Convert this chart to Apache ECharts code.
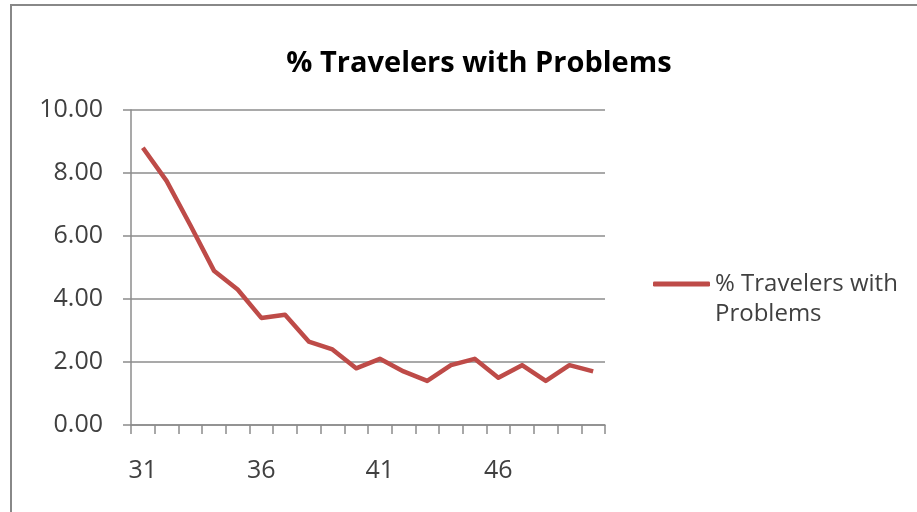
<!DOCTYPE html>
<html>
<head>
<meta charset="utf-8">
<style>
  html, body { margin: 0; padding: 0; background: #ffffff; }
  #chart { width: 917px; height: 512px; }
</style>
<script src="https://cdn.jsdelivr.net/npm/echarts@6/dist/echarts.min.js"></script>
</head>
<body>
<div id="chart"></div>
<script>
// Survey week numbers
const weeks = ['31','32','33','34','35','36','37','38','39','40','41','42','43','44','45','46','47','48','49','50'];
// Share of travelers reporting problems, percent
const travelersWithProblems = [8.8, 7.75, 6.35, 4.9, 4.3, 3.4, 3.5, 2.65, 2.4, 1.8, 2.1, 1.7, 1.4, 1.9, 2.1, 1.5, 1.9, 1.4, 1.9, 1.7];
const seriesName = '% Travelers with Problems';
const yTicks = { min: 0, max: 10, step: 2 };

const chart = echarts.init(document.getElementById('chart'));
const fontFamily = '"Open Sans", sans-serif';
const axisGray = '#8c8c8c';
const lineRed = '#be4b48';

chart.setOption({
  animation: false,
  backgroundColor: '#ffffff',
  title: {
    text: seriesName,
    left: 474,
    top: 44,
    textAlign: 'center',
    textStyle: { fontFamily: fontFamily, fontWeight: 'bold', fontSize: 29, color: '#000000' }
  },
  graphic: [{
    type: 'polyline',
    shape: { points: [[11, 512], [11, 5], [917, 5]] },
    style: { stroke: '#888888', lineWidth: 2, fill: null }
  }],
  legend: {
    left: 648,
    top: 234,
    orient: 'vertical',
    itemWidth: 57,
    itemHeight: 5,
    icon: 'roundRect',
    data: [seriesName],
    // leading blank line keeps the first text line level with the legend line
    formatter: function () { return '\n% Travelers with\nProblems'; },
    textStyle: { fontFamily: fontFamily, fontSize: 24, color: '#404040', lineHeight: 30 },
    itemStyle: { borderWidth: 0 }
  },
  grid: { left: 131, right: 312, top: 110, bottom: 87 },
  xAxis: {
    type: 'category',
    data: weeks,
    boundaryGap: true,
    axisLine: { lineStyle: { color: axisGray, width: 1.5 } },
    axisTick: { show: true, interval: 0, length: 9, lineStyle: { color: axisGray, width: 1.5 } },
    axisLabel: { interval: 4, margin: 33, fontFamily: fontFamily, fontSize: 25, color: '#404040' },
    splitLine: { show: false }
  },
  yAxis: {
    type: 'value',
    min: yTicks.min,
    max: yTicks.max,
    interval: yTicks.step,
    axisLine: { show: true, lineStyle: { color: axisGray, width: 1.5 } },
    axisTick: { show: true, length: 8, lineStyle: { color: axisGray, width: 1.5 } },
    axisLabel: {
      margin: 28,
      fontFamily: fontFamily, fontSize: 25, color: '#404040',
      formatter: function (v) { return v.toFixed(2); }
    },
    splitLine: { show: true, lineStyle: { color: axisGray, width: 1.5 } }
  },
  series: [{
    name: seriesName,
    type: 'line',
    data: travelersWithProblems,
    symbol: 'none',
    lineStyle: { color: lineRed, width: 4.5, join: 'round' },
    itemStyle: { color: lineRed }
  }]
});
</script>
</body>
</html>
